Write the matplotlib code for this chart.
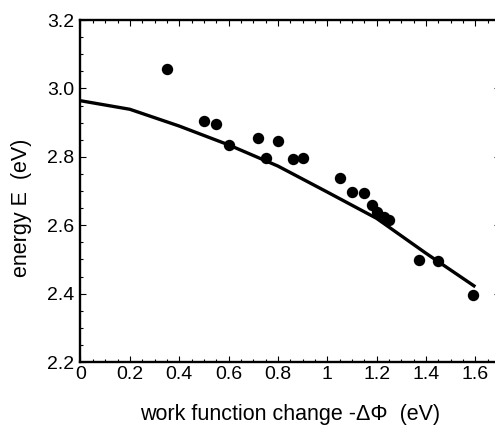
import numpy as np
import matplotlib
matplotlib.use("Agg")
import matplotlib.pyplot as plt
from matplotlib.ticker import MultipleLocator, FormatStrFormatter, FuncFormatter

plt.rcParams['font.family'] = ['Liberation Sans', 'DejaVu Sans']

# measured points
dphi = [0.35, 0.50, 0.55, 0.60, 0.72, 0.75, 0.80, 0.86, 0.90, 1.05,
        1.10, 1.15, 1.18, 1.20, 1.23, 1.25, 1.37, 1.45, 1.59]
energy = [3.057, 2.905, 2.897, 2.835, 2.856, 2.797, 2.847, 2.794, 2.797, 2.737,
          2.698, 2.695, 2.658, 2.639, 2.625, 2.615, 2.498, 2.496, 2.396]

# model curve
fit_x = [0.0, 0.2, 0.4, 0.6, 0.8, 1.0, 1.2, 1.4, 1.6]
fit_y = [2.964, 2.939, 2.890, 2.835, 2.773, 2.697, 2.620, 2.518, 2.420]

fig = plt.figure(figsize=(4.95, 4.26), dpi=100)
ax = fig.add_axes([0.1626, 0.1502, 0.8475, 0.8028])

ax.plot(fit_x, fit_y, color='black', lw=2.4, solid_capstyle='butt')
ax.plot(dphi, energy, 'o', color='black', ms=8.2, mew=0)

ax.set_xlim(0, 1.7)
ax.set_ylim(2.2, 3.2)
ax.xaxis.set_major_locator(MultipleLocator(0.2))
ax.xaxis.set_minor_locator(MultipleLocator(0.05))
ax.yaxis.set_major_locator(MultipleLocator(0.2))
ax.yaxis.set_minor_locator(MultipleLocator(0.05))
ax.xaxis.set_major_formatter(FuncFormatter(lambda v, p: '%g' % round(v, 2)))
ax.yaxis.set_major_formatter(FormatStrFormatter('%.1f'))

ax.tick_params(which='both', direction='in', top=True, right=True, width=0.8)
ax.tick_params(which='major', length=4.5, labelsize=14)
ax.tick_params(which='minor', length=2.2)
ax.tick_params(axis='x', pad=3)
ax.tick_params(axis='y', pad=4.5)
for s in ax.spines.values():
    s.set_linewidth(1.7)

fig.text(0.586, 0.026, 'work function change -\u0394\u03a6  (eV)', ha='center', va='center', fontsize=15.5)
fig.text(0.043, 0.513, 'energy E  (eV)', ha='center', va='center', rotation=90, fontsize=15.5)

plt.savefig('out.png', dpi=100)
